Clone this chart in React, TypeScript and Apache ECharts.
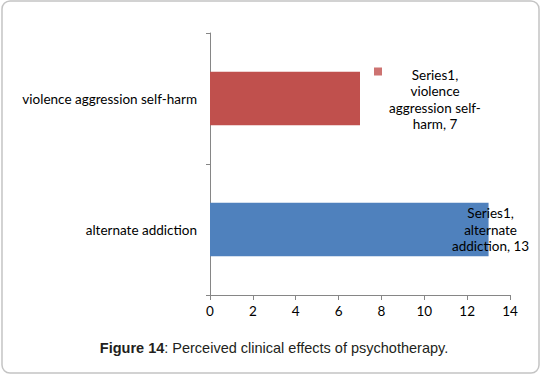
import React, { useEffect, useRef } from "react";
import * as echarts from "echarts";

const categories = ["alternate addiction", "violence aggression self-harm"];
const values = [13, 7];
const seriesName = "Series1";
const barColors = ["#4F81BD", "#C0504D"];
const xTicks = { min: 0, max: 14, interval: 2 };
const captionBold = "Figure 14";
const captionRest = ": Perceived clinical effects of psychotherapy.";

// label placement (style only)
const labelOffsets: [number, number][] = [
  [2, 0],
  [75, 1],
];
const labelTexts = ["Series1,\nalternate\naddiction, 13", "Series1,\nviolence\naggression self-\nharm, 7"];

export default function App() {
  const ref = useRef<HTMLDivElement>(null);
  useEffect(() => {
    if (!ref.current) return;
    const chart = echarts.init(ref.current, null, { renderer: "svg" });
    const font = "Lato, 'Open Sans', sans-serif";
    chart.setOption({
      animation: false,
      backgroundColor: "#ffffff",
      grid: { left: 210, right: 31, top: 33, bottom: 81, containLabel: false },
      xAxis: {
        type: "value",
        min: xTicks.min,
        max: xTicks.max,
        interval: xTicks.interval,
        axisLine: { show: true, lineStyle: { color: "#868686", width: 1 } },
        axisTick: { show: true, length: 5, lineStyle: { color: "#868686" } },
        splitLine: { show: false },
        axisLabel: { color: "#000", fontSize: 13.5, fontFamily: font, margin: 9 },
      },
      yAxis: {
        type: "category",
        data: categories,
        boundaryGap: true,
        axisLine: { show: true, lineStyle: { color: "#868686", width: 1 } },
        axisTick: { show: true, length: 4, alignWithLabel: false, lineStyle: { color: "#868686" } },
        axisLabel: { color: "#000", fontSize: 13.5, fontFamily: font, margin: 13 },
        splitLine: { show: false },
      },
      series: [
        {
          type: "bar",
          name: seriesName,
          barWidth: "41%",
          data: values.map((v, i) => ({
            value: v,
            itemStyle: { color: barColors[i] },
            label: {
              show: true,
              position: ["100%", "50%"],
              align: "center",
              verticalAlign: "middle",
              offset: labelOffsets[i],
              formatter: labelTexts[i],
              color: "#000",
              fontSize: 13.5,
              lineHeight: 16.5,
              fontFamily: font,
            },
          })),
        },
        {
          type: "scatter",
          name: "key",
          symbol: "rect",
          symbolSize: 8,
          symbolOffset: [18, -27],
          itemStyle: { color: barColors[1] },
          data: [[values[1], categories[1]]],
          z: 5,
        },
      ],
      graphic: [
        {
          type: "rect",
          shape: { x: 2, y: 1, width: 537, height: 372, r: 8 },
          style: { fill: "none", stroke: "#c4c4c4", lineWidth: 1.5 },
          silent: true,
        },
        {
          type: "text",
          x: 274,
          y: 348,
          style: {
            text: `{b|${captionBold}}{n|${captionRest}}`,
            align: "center",
            verticalAlign: "middle",
            rich: {
              b: { fontWeight: "bold", fontSize: 14.5, fontFamily: "'Liberation Sans', Arial, sans-serif", fill: "#231f20" },
              n: { fontSize: 14.5, fontFamily: "'Liberation Sans', Arial, sans-serif", fill: "#231f20" },
            },
          },
        },
      ],
    });
    return () => chart.dispose();
  }, []);
  return <div ref={ref} style={{ position: "fixed", left: 0, top: 0, width: 541, height: 376 }} />;
}
